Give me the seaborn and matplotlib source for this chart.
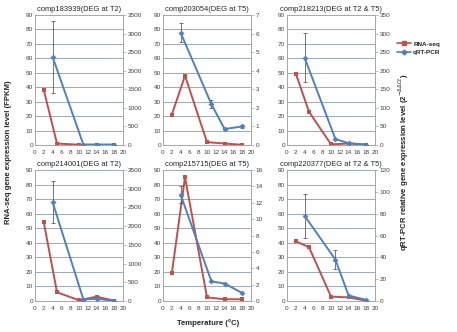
import matplotlib
matplotlib.use("Agg")
import matplotlib.pyplot as plt
import seaborn as sns
import pandas as pd
import numpy as np

sns.set_style("white")
plt.rcParams["font.family"] = ["Liberation Sans", "DejaVu Sans"]

# Gene panels
titles = ["comp183939(DEG at T2)", "comp203054(DEG at T5)", "comp218213(DEG at T2 & T5)",
          "comp214001(DEG at T2)", "comp215715(DEG at T5)", "comp220377(DEG at T2 & T5)"]

rna_temps = [2, 5, 10, 14, 18]
pcr_temps = [4, 11, 14, 18]

rna_fpkm = [
    [38, 1, 0.2, 0.2, 0.1],
    [21, 48, 2, 1, 0.2],
    [49.5, 23, 0.5, 1, 0.2],
    [54, 6, 0.5, 3, 0.2],
    [19, 85, 2.5, 1.2, 1.2],
    [41, 37, 3, 2.5, 0.2],
]

pcr_level = [
    [2370, 10, 10, 10],
    [6.05, 2.2, 0.86, 1.0],
    [235, 16, 5, 1],
    [2640, 40, 60, 5],
    [13.0, 2.4, 2.13, 0.98],
    [78, 38, 5, 1],
]

pcr_err = [
    [970, 0, 0, 0],
    [0.5, 0.2, 0.05, 0.1],
    [66, 0, 0, 0],
    [560, 0, 0, 0],
    [1.0, 0.1, 0.1, 0.05],
    [20, 9, 0, 0],
]

right_max = [3500, 7, 350, 3500, 16, 120]
right_step = [500, 1, 50, 500, 2, 20]

RED = "#C0504D"
BLUE = "#4F81BD"
GRID = "#9AA9C0"
SPINE = "#A6A6A6"

W, H = 457, 332
fig = plt.figure(figsize=(W / 100, H / 100), dpi=100)

col_left = [35, 163, 287]
col_w = 88
row_top = [15, 170]
row_h = [130, 131]

tick_fs = 4.6
title_fs = 5.4

for i in range(6):
    r, c = divmod(i, 3)
    left = col_left[c] / W
    bottom = (H - row_top[r] - row_h[r]) / H
    ax = fig.add_axes([left, bottom, col_w / W, row_h[r] / H])
    ax2 = ax.twinx()

    rna = pd.DataFrame({"Temperature": rna_temps, "FPKM": rna_fpkm[i]})
    pcr = pd.DataFrame({"Temperature": pcr_temps, "Level": pcr_level[i], "Err": pcr_err[i]})

    sns.lineplot(data=rna, x="Temperature", y="FPKM", ax=ax, color=RED, marker="s",
                 markersize=3, markeredgewidth=0, linewidth=1.4, legend=False, zorder=3)
    ax2.errorbar(pcr["Temperature"], pcr["Level"], yerr=pcr["Err"], fmt="none",
                 ecolor="#404040", elinewidth=0.5, capsize=1.5, capthick=0.5, zorder=2)
    sns.lineplot(data=pcr, x="Temperature", y="Level", ax=ax2, color=BLUE, marker="D",
                 markersize=3, markeredgewidth=0, linewidth=1.4, legend=False, zorder=3)

    ax.set_xlim(0, 20)
    ax.set_ylim(0, 90)
    ax.set_xticks(np.arange(0, 21, 2))
    ax.set_yticks(np.arange(0, 91, 10))
    ax2.set_ylim(0, right_max[i])
    ax2.set_yticks(np.arange(0, right_max[i] + right_step[i] / 2, right_step[i]))

    ax.grid(axis="y", color=GRID, linewidth=0.7)
    ax.grid(axis="x", visible=False)
    ax2.grid(False)
    ax.set_axisbelow(True)

    for a in (ax, ax2):
        a.set_xlabel("")
        a.set_ylabel("")
        for s in ("top",):
            a.spines[s].set_visible(False)
        for s in ("left", "right", "bottom"):
            a.spines[s].set_color(SPINE)
            a.spines[s].set_linewidth(0.6)
        a.tick_params(labelsize=tick_fs, colors="#404040", length=2, width=0.5, pad=1.5)
    ax.tick_params(axis="y", length=0)
    ax.tick_params(axis="x", color=SPINE)
    ax2.tick_params(axis="y", color=SPINE)

    ax.set_title(titles[i], fontsize=title_fs, color="#262626", pad=3)

    if i == 2:
        handles = [
            plt.Line2D([], [], color=RED, marker="s", markersize=2.5, linewidth=1.2),
            plt.Line2D([], [], color=BLUE, marker="D", markersize=2.5, linewidth=1.2),
        ]
        fig.legend(handles, ["RNA-seq", "qRT-PCR"], loc="upper left",
                   bbox_to_anchor=(394 / W, 1 - 38 / H), frameon=False,
                   prop={"size": 4.6, "weight": "bold"}, handlelength=2.2,
                   handletextpad=0.3, labelspacing=0.5, borderpad=0)

fig.text(9 / W, 1 - 152 / H, "RNA-seq gene expression level (FPKM)", rotation=90,
         ha="center", va="center", fontsize=5.6, fontweight="bold", color="#262626")
fig.text(404 / W, 1 - 162 / H, r"qRT-PCR relative gene expression level (2$^{-\Delta\Delta Ct}$)",
         rotation=90, ha="center", va="center", fontsize=5.6, fontweight="bold", color="#262626")
fig.text(208 / W, 1 - 323 / H, "Temperature (\u00b0C)", ha="center", va="center",
         fontsize=5.6, fontweight="bold", color="#262626")

fig.savefig("out.png", dpi=100, facecolor="white")
